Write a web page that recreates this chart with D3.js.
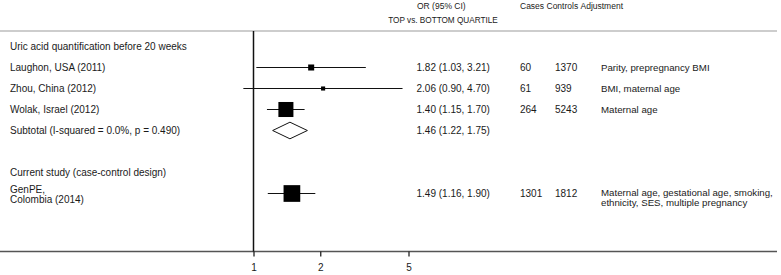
<!DOCTYPE html>
<html>
<head>
<meta charset="utf-8">
<script src="https://cdn.jsdelivr.net/npm/d3@7"></script>
<style>
  body { margin: 0; background: #fff; }
  svg text { font-family: "Liberation Sans", Arial, sans-serif; fill: #1a1a1a; }
</style>
</head>
<body>
<div id="chart"></div>
<script>
// study rows (first subgroup)
const studies = ["Laughon, USA (2011)", "Zhou, China (2012)", "Wolak, Israel (2012)"];
const orValues = [1.82, 2.06, 1.40];
const ciLow = [1.03, 0.90, 1.15];
const ciHigh = [3.21, 4.70, 1.70];
const weights = [13, 6, 81];
const cases = [60, 61, 264];
const controls = [1370, 939, 5243];
const adjustments = ["Parity, prepregnancy BMI", "BMI, maternal age", "Maternal age"];

// pooled subtotal
const subtotalLabel = "Subtotal  (I-squared = 0.0%, p = 0.490)";
const subtotal = [1.46, 1.22, 1.75];

// current study
const currentLabel = ["GenPE,", "Colombia (2014)"];
const currentOR = [1.49, 1.16, 1.90];
const currentWeight = 100;
const currentCases = 1301;
const currentControls = 1812;
const currentAdjust = ["Maternal age, gestational age, smoking,", "ethnicity, SES, multiple pregnancy"];

const groupHeaders = ["Uric acid quantification before 20 weeks", "Current study (case-control design)"];
const tickValues = [1, 2, 5];
const colHeaders = ["OR (95% CI)", "Cases", "Controls", "Adjustment"];
const subHeader = "TOP vs. BOTTOM QUARTILE";

const W = 781, H = 275;
const svg = d3.select("#chart").append("svg")
    .attr("width", W)
    .attr("height", H);

const x = d3.scaleLog().domain([1, 5]).range([253.5, 408.5]);
const y = d3.scaleLinear().domain([0, 7]).range([46.5, 193.5]);
const side = d3.scaleSqrt().domain([0, 100]).range([0, 16.7]);

const fs = "10px", fsAdj = "9.7px", fsHead = "8.5px";
const colOR = 416.5, colCases = 520, colControls = 555, colAdj = 601;

function label(xp, yp, t, size) {
    return svg.append("text").attr("x", xp).attr("y", yp).attr("dy", "0.35em")
        .style("font-size", size || fs).text(t);
}

// header
label(417, 6, colHeaders[0], fsHead);
label(443, 20, subHeader, "8.2px").attr("text-anchor", "middle");
label(520, 6, colHeaders[1], fsHead);
label(546.5, 6, colHeaders[2], fsHead);
label(580.5, 6, colHeaders[3], fsHead);

// top & bottom rules
svg.append("line").attr("x1", 0).attr("x2", 777).attr("y1", 31).attr("y2", 31)
    .attr("stroke", "#bdbdbd").attr("stroke-width", 1.5);
svg.append("line").attr("x1", 0).attr("x2", 777).attr("y1", 251.5).attr("y2", 251.5)
    .attr("stroke", "#555").attr("stroke-width", 1.5);

// null line
svg.append("line").attr("x1", x(1)).attr("x2", x(1)).attr("y1", 31).attr("y2", 251.5)
    .attr("stroke", "#111").attr("stroke-width", 1.5);

// axis
const axis = svg.append("g")
    .attr("transform", "translate(0,251.5)")
    .call(d3.axisBottom(x).tickValues(tickValues).tickFormat(d3.format("d")).tickSize(5).tickPadding(7));
axis.select(".domain").remove();
axis.selectAll(".tick line").attr("stroke", "#222").attr("stroke-width", 1.3);
axis.selectAll(".tick text").style("font-size", fs).attr("fill", "#1a1a1a")
    .style("font-family", "'Liberation Sans', Arial, sans-serif");

// group headers
label(10, y(0), groupHeaders[0]);
label(10, y(6), groupHeaders[1]);

const fmt = d3.format(".2f");

// studies
const rows = studies.map((s, i) => ({
    label: s, or: orValues[i], lo: ciLow[i], hi: ciHigh[i], w: weights[i],
    cases: cases[i], controls: controls[i], adj: adjustments[i], row: i + 1
}));

rows.forEach(d => {
    const cy = y(d.row);
    label(10, cy, d.label);
    svg.append("line").attr("x1", x(d.lo)).attr("x2", x(d.hi)).attr("y1", cy).attr("y2", cy)
        .attr("stroke", "#111").attr("stroke-width", 1);
    const s = side(d.w);
    svg.append("rect").attr("x", x(d.or) - s / 2).attr("y", cy - s / 2)
        .attr("width", s).attr("height", s).attr("fill", "#000");
    label(colOR, cy, `${fmt(d.or)} (${fmt(d.lo)}, ${fmt(d.hi)})`);
    label(colCases, cy, d.cases);
    label(colControls, cy, d.controls);
    label(colAdj, cy, d.adj, fsAdj);
});

// subtotal diamond
const sy = y(4);
label(10, sy, subtotalLabel);
svg.append("path")
    .attr("d", `M${x(subtotal[1])},${sy} L${x(subtotal[0])},${sy - 8.3} L${x(subtotal[2])},${sy} L${x(subtotal[0])},${sy + 8.3} Z`)
    .attr("fill", "#fff").attr("stroke", "#111").attr("stroke-width", 1);
label(colOR, sy, `${fmt(subtotal[0])} (${fmt(subtotal[1])}, ${fmt(subtotal[2])})`);

// current study
const cy = y(7);
currentLabel.forEach((t, i) => label(10, cy - 4.5 + i * 10, t));
svg.append("line").attr("x1", x(currentOR[1])).attr("x2", x(currentOR[2])).attr("y1", cy).attr("y2", cy)
    .attr("stroke", "#111").attr("stroke-width", 1);
const cs = side(currentWeight);
svg.append("rect").attr("x", x(currentOR[0]) - cs / 2).attr("y", cy - cs / 2)
    .attr("width", cs).attr("height", cs).attr("fill", "#000");
label(colOR, cy, `${fmt(currentOR[0])} (${fmt(currentOR[1])}, ${fmt(currentOR[2])})`);
label(colCases, cy, currentCases);
label(colControls, cy, currentControls);
currentAdjust.forEach((t, i) => label(colAdj, cy - 1 + i * 10, t, fsAdj));
</script>
</body>
</html>
